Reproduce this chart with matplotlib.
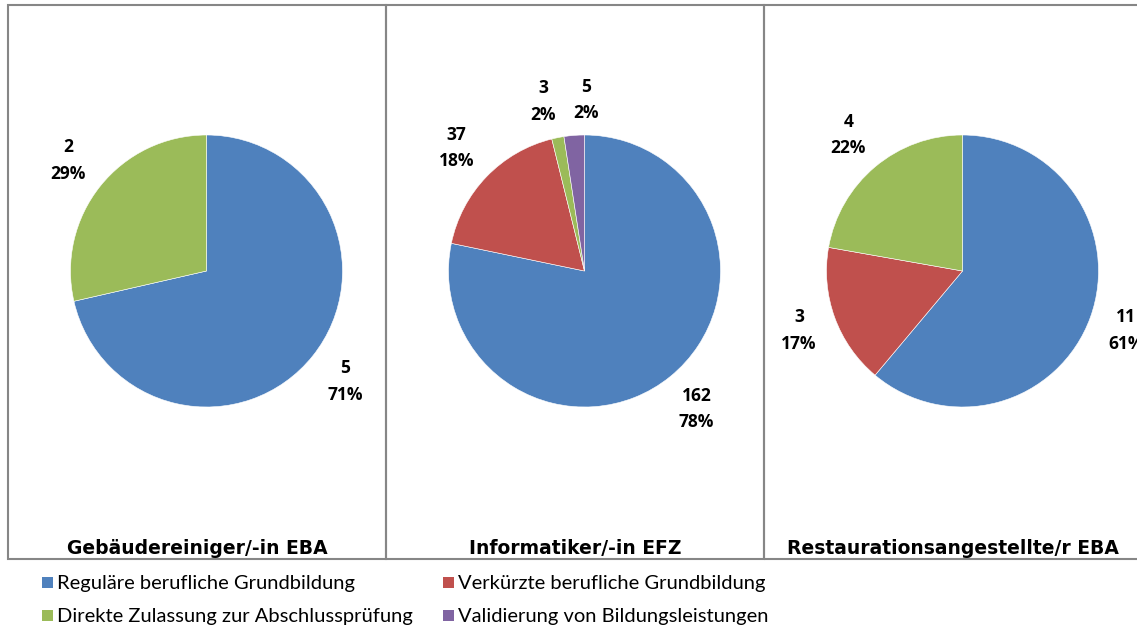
import numpy as np
import matplotlib.pyplot as plt
from matplotlib.patches import Rectangle

# data
categories = ["Reguläre berufliche Grundbildung", "Verkürzte berufliche Grundbildung",
              "Direkte Zulassung zur Abschlussprüfung", "Validierung von Bildungsleistungen"]
colors = ["#4F81BD", "#C0504D", "#9BBB59", "#8064A2"]

titles = ["Gebäudereiniger/-in EBA", "Informatiker/-in EFZ", "Restaurationsangestellte/r EBA"]
gebaeude = [5, 0, 2, 0]
informatik = [162, 37, 3, 5]
restauration = [11, 3, 4, 0]
gebaeude_pct = ["71%", "", "29%", ""]
informatik_pct = ["78%", "18%", "2%", "2%"]
restauration_pct = ["61%", "17%", "22%", ""]

values = [gebaeude, informatik, restauration]
pcts = [gebaeude_pct, informatik_pct, restauration_pct]
# small angular nudges (degrees) for crowded labels, like Excel's best fit
nudges = [[0, 0, 0, 0], [0, 0, 2.5, -5], [0, 0, 0, 0]]

W, H = 1137, 625
fig = plt.figure(figsize=(W / 100, H / 100), dpi=100)

panel_left = [8, 386, 764]
panel_w = 378
top, bottom = 5, 559
pie_cy, pie_r = 271, 136
# label box half sizes and gap to the pie edge, in pixels
box_hw, box_hh, gap = 18, 21, 14

for i in range(3):
    x0 = panel_left[i]
    fig.patches.append(Rectangle((x0 / W, 1 - bottom / H), panel_w / W, (bottom - top) / H,
                                 transform=fig.transFigure, fill=False,
                                 edgecolor="#868686", linewidth=1.5))

    cx = x0 + 198.5
    ax = fig.add_axes([(cx - pie_r) / W, 1 - (pie_cy + pie_r) / H, 2 * pie_r / W, 2 * pie_r / H])
    vals = [v for v in values[i] if v > 0]
    cols = [c for v, c in zip(values[i], colors) if v > 0]
    idx = [k for k, v in enumerate(values[i]) if v > 0]
    wedges, _ = ax.pie(vals, colors=cols, startangle=90, counterclock=False,
                       wedgeprops=dict(edgecolor="white", linewidth=0.4))
    ax.set_xlim(-1, 1)
    ax.set_ylim(-1, 1)
    ax.set_aspect("equal")
    ax.axis("off")

    for w, k in zip(wedges, idx):
        mid = np.deg2rad((w.theta1 + w.theta2) / 2 + nudges[i][k])
        ext = box_hw * abs(np.cos(mid)) + box_hh * abs(np.sin(mid))
        rr = (pie_r + gap + ext) / pie_r
        ax.text(rr * np.cos(mid), rr * np.sin(mid), f"{values[i][k]}\n{pcts[i][k]}",
                ha="center", va="center", fontsize=12.5, fontweight="bold",
                family="Open Sans", linespacing=1.6, clip_on=False)

    fig.text((x0 + panel_w / 2) / W, 1 - 548 / H, titles[i], ha="center", va="center",
             fontsize=13.5, fontweight="bold", family="DejaVu Sans")

# legend, two rows of two entries
leg_x = [42, 443]
leg_y = [582, 615]
sq = 11
for k, (name, c) in enumerate(zip(categories, colors)):
    lx = leg_x[k % 2]
    ly = leg_y[k // 2]
    fig.patches.append(Rectangle((lx / W, 1 - (ly + sq / 2) / H), sq / W, sq / H,
                                 transform=fig.transFigure, facecolor=c, edgecolor="none"))
    fig.text((lx + sq + 4) / W, 1 - ly / H, name, ha="left", va="center_baseline",
             fontsize=14.5, family="Lato", color="black")

fig.savefig("out.png", dpi=100)
